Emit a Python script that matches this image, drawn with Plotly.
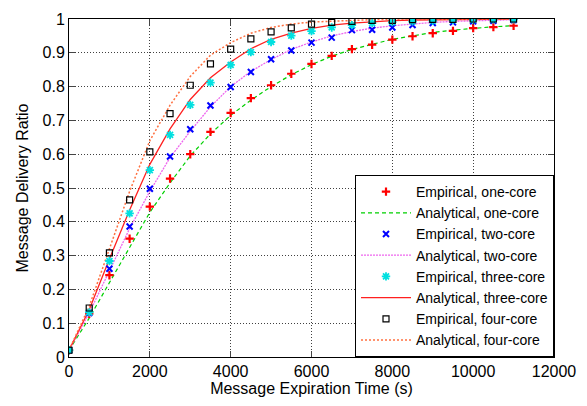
import plotly.graph_objects as go

x_vals = [0, 500, 1000, 1500, 2000, 2500, 3000, 3500, 4000, 4500, 5000, 5500,
          6000, 6500, 7000, 7500, 8000, 8500, 9000, 9500, 10000, 10500, 11000]

emp_one = [0.02, 0.128, 0.242, 0.35, 0.445, 0.528, 0.60, 0.666, 0.722, 0.766, 0.804, 0.838,
           0.867, 0.891, 0.911, 0.924, 0.939, 0.949, 0.958, 0.965, 0.973, 0.976, 0.98]
emp_two = [0.02, 0.13, 0.261, 0.386, 0.498, 0.593, 0.674, 0.744, 0.799, 0.843, 0.881, 0.907,
           0.930, 0.945, 0.967, 0.968, 0.975, 0.982, 0.988, 0.99, 0.993, 0.995, 0.997]
emp_three = [0.02, 0.132, 0.284, 0.425, 0.553, 0.657, 0.746, 0.812, 0.864, 0.902, 0.932, 0.951,
             0.964, 0.975, 0.982, 0.988, 0.991, 0.993, 0.995, 0.997, 0.998, 0.999, 0.999]
emp_four = [0.02, 0.145, 0.308, 0.465, 0.607, 0.72, 0.804, 0.867, 0.911, 0.941, 0.962, 0.974,
            0.985, 0.99, 0.993, 0.996, 0.996, 0.998, 0.999, 0.999, 1.0, 1.0, 1.0]

ana_one = [0.02, 0.115, 0.22, 0.325, 0.428, 0.515, 0.595, 0.66, 0.715, 0.76, 0.80, 0.835,
           0.865, 0.89, 0.91, 0.925, 0.94, 0.95, 0.96, 0.967, 0.973, 0.977, 0.98]
ana_two = [0.02, 0.13, 0.255, 0.38, 0.49, 0.59, 0.668, 0.74, 0.80, 0.845, 0.88, 0.91,
           0.932, 0.95, 0.963, 0.973, 0.98, 0.986, 0.99, 0.993, 0.995, 0.997, 0.998]
ana_three = [0.02, 0.14, 0.29, 0.435, 0.57, 0.675, 0.762, 0.826, 0.873, 0.912, 0.94, 0.958,
             0.972, 0.982, 0.988, 0.992, 0.995, 0.997, 0.998, 0.999, 0.999, 1.0, 1.0]
ana_four = [0.02, 0.15, 0.32, 0.49, 0.64, 0.745, 0.83, 0.893, 0.93, 0.958, 0.975, 0.985,
            0.991, 0.994, 0.996, 0.998, 0.999, 0.999, 1.0, 1.0, 1.0, 1.0, 1.0]

x_ticks = [0, 2000, 4000, 6000, 8000, 10000, 12000]
x_tick_text = ["0", "2000", "4000", "6000", "8000", "10000", "12000"]
y_ticks = [0, 0.1, 0.2, 0.3, 0.4, 0.5, 0.6, 0.7, 0.8, 0.9, 1]
y_tick_text = ["0", "0.1", "0.2", "0.3", "0.4", "0.5", "0.6", "0.7", "0.8", "0.9", "1"]

fig = go.Figure()

def ana(name, y, color, dash, width):
    fig.add_trace(go.Scatter(x=x_vals, y=y, name=name, mode="lines",
                             line=dict(color=color, dash=dash, width=width)))

def emp(name, y, color, symbol, size, lw):
    fig.add_trace(go.Scatter(x=x_vals, y=y, name=name, mode="markers",
                             marker=dict(color=color, symbol=symbol, size=size,
                                         line=dict(color=color, width=lw))))

emp("Empirical, one-core", emp_one, "#ff0000", "cross-thin", 6, 2.2)
ana("Analytical, one-core", ana_one, "#00d000", "4px,3px", 1.2)
emp("Empirical, two-core", emp_two, "#0000ff", "x-thin", 6, 2)
ana("Analytical, two-core", ana_two, "#ee66ee", "2px,1px", 1.3)
emp("Empirical, three-core", emp_three, "#00e0e0", "asterisk", 7, 1.8)
ana("Analytical, three-core", ana_three, "#ff2020", "solid", 1.3)
emp("Empirical, four-core", emp_four, "#000000", "square-open", 6, 1.2)
ana("Analytical, four-core", ana_four, "#ff7040", "2px,2px", 1.5)

# draw lines under markers, but keep legend order
order = [1, 3, 5, 7, 0, 2, 4, 6]
data = list(fig.data)
for rank, t in enumerate(data):
    t.legendrank = rank + 1
fig.data = [data[i] for i in order]

font_family = "Liberation Sans, Arial, sans-serif"
grid_col = "rgba(0,0,0,0.75)"

fig.update_layout(
    width=587, height=406,
    margin=dict(l=69, r=26, t=11, b=49),
    paper_bgcolor="white", plot_bgcolor="white",
    font=dict(family=font_family, size=16, color="black"),
    showlegend=True,
    legend=dict(x=1, y=0, xanchor="right", yanchor="bottom",
                bgcolor="white", bordercolor="black", borderwidth=1,
                font=dict(size=14), tracegroupgap=0, itemwidth=50,
                traceorder="normal"),
)
fig.update_xaxes(
    range=[0, 12000], tickvals=x_ticks, ticktext=x_tick_text, ticks="inside", ticklen=6,
    showline=True, linecolor="black", linewidth=1, mirror="ticks",
    showgrid=True, gridcolor=grid_col, griddash="1px,2px", gridwidth=1,
    zeroline=False,
    title=dict(text="Message Expiration Time (s)", font=dict(size=16), standoff=1),
    tickfont=dict(size=16),
)
fig.update_yaxes(
    range=[0, 1], tickvals=y_ticks, ticktext=y_tick_text, ticks="inside", ticklen=6,
    showline=True, linecolor="black", linewidth=1, mirror="ticks",
    showgrid=True, gridcolor=grid_col, griddash="1px,2px", gridwidth=1,
    zeroline=False,
    title=dict(text="Message Delivery Ratio", font=dict(size=16), standoff=9),
    tickfont=dict(size=16),
)

fig.write_html("out.html")
